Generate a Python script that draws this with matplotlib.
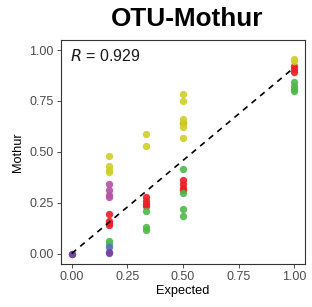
import matplotlib
matplotlib.use("Agg")
import matplotlib.pyplot as plt

plt.rcParams['font.family'] = ['Liberation Sans', 'DejaVu Sans']

# values, one group per colour
yellow_x = [1/6, 1/6, 1/6, 1/6, 1/3, 1/3, 0.5, 0.5, 0.5, 0.5, 0.5, 0.5, 1, 1]
yellow_y = [0.48, 0.43, 0.41, 0.40, 0.59, 0.53, 0.785, 0.75, 0.66, 0.64, 0.62, 0.57, 0.955, 0.945]
red_x = [1/6, 1/6, 1/6, 1/6, 1/3, 1/3, 1/3, 1/3, 0.5, 0.5, 0.5, 0.5, 0.5, 1, 1, 1]
red_y = [0.195, 0.16, 0.15, 0.14, 0.28, 0.26, 0.245, 0.235, 0.64, 0.36, 0.34, 0.32, 0.31, 0.92, 0.905, 0.89]
green_x = [1/6, 1/6, 1/3, 1/3, 1/3, 0.5, 0.5, 0.5, 0.5, 1, 1, 1, 1]
green_y = [0.06, 0.045, 0.21, 0.13, 0.115, 0.415, 0.30, 0.22, 0.185, 0.845, 0.825, 0.81, 0.80]
magenta_x = [1/6, 1/6, 1/6, 1/6]
magenta_y = [0.34, 0.31, 0.29, 0.28]
blue_x = [1/6]
blue_y = [0.03]
purple_x = [0, 0, 1/6, 1/6]
purple_y = [0.0, 0.0, 0.01, 0.005]

fit_slope = 0.915
r_value = 0.929

# red goes first so the yellow cluster at 0.5 covers it
groups = [
    (red_x, red_y, '#EC1E28'),
    (yellow_x, yellow_y, '#CFCF2A'),
    (green_x, green_y, '#4DB848'),
    (magenta_x, magenta_y, '#B552A8'),
    (blue_x, blue_y, '#5A6DB8'),
    (purple_x, purple_y, '#7347A2'),
]

fig = plt.figure(figsize=(3.12, 3.07), dpi=100)
ax = fig.add_axes([0.194, 0.141, 0.785, 0.729])

for xs, ys, col in groups:
    ax.scatter(xs, ys, s=28, color=col, alpha=0.9, linewidths=0, zorder=2)

ax.plot([0, 1], [0, fit_slope], color='black', lw=1.2, ls=(0, (3.5, 3.2)), zorder=3)

ax.text(0.04, 0.93, '$R$ = %.3f' % r_value, fontsize=11.5, color='#1a1a1a',
        transform=ax.transAxes, va='center', ha='left')

ax.set_xlim(-0.05, 1.05)
ax.set_ylim(-0.05, 1.05)
ticks = [0, 0.25, 0.5, 0.75, 1.0]
ax.set_xticks(ticks)
ax.set_yticks(ticks)
ax.set_xticklabels(['%.2f' % t for t in ticks])
ax.set_yticklabels(['%.2f' % t for t in ticks])
ax.tick_params(labelsize=9, labelcolor='#4D4D4D', color='#333333', length=3, width=0.6, pad=2)
for sp in ax.spines.values():
    sp.set_color('#333333')
    sp.set_linewidth(0.8)

ax.set_xlabel('Expected', fontsize=9.2, labelpad=2)
ax.set_ylabel('Mothur', fontsize=9.2, labelpad=4)
ax.set_title('OTU-Mothur', fontsize=18.8, fontweight='bold', pad=10, x=0.516)

fig.savefig('out.png', dpi=100)
